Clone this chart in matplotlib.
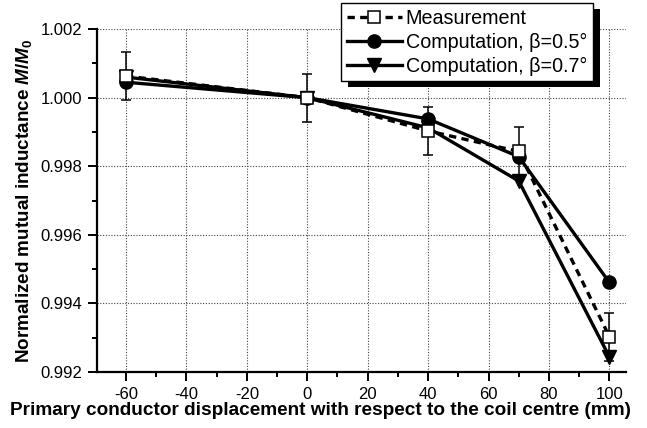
import matplotlib
matplotlib.use("Agg")
import matplotlib.pyplot as plt
from matplotlib.ticker import MultipleLocator, FormatStrFormatter
from matplotlib.patches import Rectangle
from matplotlib.transforms import IdentityTransform

plt.rcParams['font.family'] = ['Liberation Sans', 'DejaVu Sans']
plt.rcParams['axes.unicode_minus'] = False
plt.rcParams['mathtext.fontset'] = 'custom'
plt.rcParams['mathtext.it'] = 'Liberation Sans:italic:bold'
plt.rcParams['mathtext.rm'] = 'Liberation Sans:bold'
plt.rcParams['mathtext.bf'] = 'Liberation Sans:bold'

x = [-60, 0, 40, 70, 100]
meas = [1.00063, 1.0000, 0.99903, 0.99843, 0.99303]
meas_err = [0.0007, 0.0007, 0.0007, 0.0007, 0.0007]
comp05 = [1.00045, 1.0000, 0.99938, 0.99828, 0.99461]
comp07 = [1.00060, 1.0000, 0.99912, 0.99757, 0.99244]

labels = ["Measurement", "Computation, β=0.5°", "Computation, β=0.7°"]

fig = plt.figure(figsize=(6.47, 4.28), dpi=100)
ax = fig.add_axes([0.150, 0.131, 0.8175, 0.801])

l1, = ax.plot(x, comp05, '-', color='black', lw=2.4, marker='o', ms=9.5, zorder=3, label=labels[1])
l2, = ax.plot(x, comp07, '-', color='black', lw=2.4, marker='v', ms=10.5, zorder=3, label=labels[2])
ax.errorbar(x, meas, yerr=meas_err, fmt='none', ecolor='black', elinewidth=1.1, capsize=3.5, capthick=1.1, zorder=4)
l0, = ax.plot(x, meas, '--', color='black', lw=2.4, dashes=(2.2, 1.6), marker='s', ms=8.5,
              mfc='white', mec='black', mew=1.1, zorder=5, label=labels[0])

ax.set_xlim(-69.6, 105.5)
ax.set_ylim(0.992, 1.002)
ax.xaxis.set_major_locator(MultipleLocator(20))
ax.xaxis.set_minor_locator(MultipleLocator(10))
ax.yaxis.set_major_locator(MultipleLocator(0.002))
ax.yaxis.set_minor_locator(MultipleLocator(0.001))
ax.yaxis.set_major_formatter(FormatStrFormatter('%.3f'))

for s in ['top', 'right']:
    ax.spines[s].set_visible(False)
for s in ['left', 'bottom']:
    ax.spines[s].set_linewidth(1.6)

ax.tick_params(which='major', direction='out', length=6.5, width=1.4, labelsize=12, colors='black', pad=4)
ax.tick_params(axis='x', which='major', pad=4)
ax.tick_params(which='minor', direction='out', length=3.3, width=1.4)
ax.grid(True, which='major', linestyle=(0, (1, 1.5)), color='#444444', lw=0.8)

fig.text(0.496, 0.040, "Primary conductor displacement with respect to the coil centre (mm)",
         fontsize=13.7, fontweight='bold', ha='center', va='center')
ax.set_ylabel(r"Normalized mutual inductance $M/M_0$", fontsize=13.6, fontweight='bold', labelpad=5)

leg = fig.legend(handles=[l0, l1, l2], loc='upper right', bbox_to_anchor=(593 / 647, 1 - 3 / 428),
                 fancybox=False, framealpha=1, edgecolor='black', fontsize=14.2,
                 handlelength=2.8, handletextpad=0.2, borderpad=0.3, labelspacing=0.24,
                 borderaxespad=0)
leg.get_frame().set_linewidth(1.0)
leg.set_zorder(5)

fig.canvas.draw()
bb = leg.get_window_extent()
shadow = Rectangle((bb.x0 + 7, bb.y0 - 6), bb.width, bb.height, transform=IdentityTransform(),
                   facecolor='black', edgecolor='none', zorder=4)
fig.add_artist(shadow)

fig.savefig("out.png", dpi=100)
